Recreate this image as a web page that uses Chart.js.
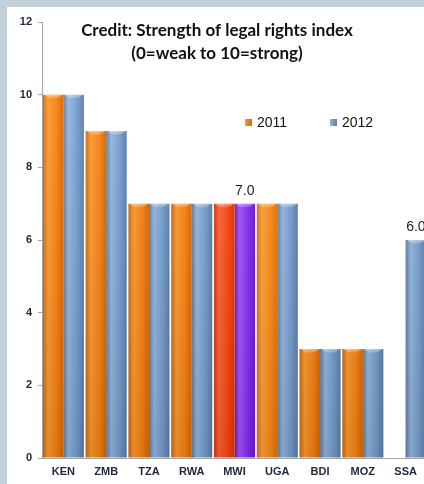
<!DOCTYPE html>
<html>
<head>
<meta charset="utf-8">
<script src="https://cdn.jsdelivr.net/npm/chart.js@4.4.1/dist/chart.umd.min.js"></script>
<style>
  html, body { margin: 0; padding: 0; overflow: hidden; width: 424px; height: 484px; background: #fff; }
  #wrap { position: absolute; left: 0; top: 0; width: 440px; height: 484px; }
</style>
</head>
<body>
<div id="wrap"><canvas id="c" width="440" height="484"></canvas></div>
<script>
const categories = ['KEN', 'ZMB', 'TZA', 'RWA', 'MWI', 'UGA', 'BDI', 'MOZ', 'SSA'];
const values2011 = [10, 9, 7, 7, 7, 7, 3, 3, null];
const values2012 = [10, 9, 7, 7, 7, 7, 3, 3, 6];
const yTicks = [0, 2, 4, 6, 8, 10, 12];
const seriesNames = ['2011', '2012'];
const titleLines = ['Credit: Strength of legal rights index', '(0=weak to 10=strong)'];
const labelledBars = [{ series: 1, category: 'MWI', text: '7.0' }, { series: 1, category: 'SSA', text: '6.0' }];

// palettes: [dark edge, light, base]
const PAL = {
  orange: ['#D26808', '#FF9A30', '#F9800E'],
  orangeB: ['#E07208', '#FFA238', '#FF8A12'],
  blue: ['#5B7DA8', '#93B8E2', '#739BCB'],
  red: ['#E03400', '#FF6634', '#FF420E'],
  purple: ['#6A1CC8', '#A454FF', '#8428F2']
};
const pal2011 = categories.map(c => c === 'MWI' ? PAL.red : (c === 'UGA' ? PAL.orangeB : PAL.orange));
const pal2012 = categories.map(c => c === 'MWI' ? PAL.purple : PAL.blue);
const palettes = [pal2011, pal2012];

const gradientPlugin = {
  id: 'gradients',
  beforeDatasetsDraw(chart) {
    const ctx = chart.ctx;
    chart.data.datasets.forEach((ds, di) => {
      const meta = chart.getDatasetMeta(di);
      meta.data.forEach((bar, i) => {
        const p = palettes[di][i];
        const x0 = bar.x - bar.width / 2, x1 = bar.x + bar.width / 2;
        const g = ctx.createLinearGradient(x0, 0, x1, 0);
        g.addColorStop(0, p[0]);
        g.addColorStop(0.25, p[1]);
        g.addColorStop(0.7, p[2]);
        g.addColorStop(1, p[0]);
        bar.options = Object.assign({}, bar.options, { backgroundColor: g });
      });
    });
  },
  afterDatasetsDraw(chart) {
    const ctx = chart.ctx;
    ctx.save();
    chart.data.datasets.forEach((ds, di) => {
      const meta = chart.getDatasetMeta(di);
      meta.data.forEach((bar, i) => {
        if (ds.data[i] == null) return;
        const x0 = bar.x - bar.width / 2;
        const g = ctx.createLinearGradient(0, chart.chartArea.top, 0, bar.base);
        g.addColorStop(0, 'rgba(255,255,255,0.06)');
        g.addColorStop(1, 'rgba(0,0,0,0.10)');
        ctx.fillStyle = g;
        ctx.fillRect(x0, bar.y, bar.width, bar.base - bar.y);
        // top bevel highlight
        const hg = ctx.createLinearGradient(0, bar.y, 0, bar.y + 5);
        hg.addColorStop(0, 'rgba(255,255,255,0.45)');
        hg.addColorStop(1, 'rgba(255,255,255,0)');
        ctx.fillStyle = hg;
        ctx.beginPath();
        ctx.moveTo(x0 + 1, bar.y);
        ctx.lineTo(x0 + bar.width - 1, bar.y);
        ctx.quadraticCurveTo(x0 + bar.width / 2, bar.y + 8, x0 + 1, bar.y);
        ctx.closePath();
        ctx.fill();
      });
    });
    // value labels
    ctx.fillStyle = '#222';
    ctx.font = '14px "Liberation Sans", Arial, sans-serif';
    ctx.textAlign = 'center';
    ctx.textBaseline = 'bottom';
    labelledBars.forEach(l => {
      const idx = categories.indexOf(l.category);
      const bar = chart.getDatasetMeta(l.series).data[idx];
      ctx.fillText(l.text, bar.x, bar.y - 6);
    });
    ctx.restore();
  }
};

const framePlugin = {
  id: 'frame',
  beforeDraw(chart) {
    const ctx = chart.ctx;
    ctx.save();
    ctx.fillStyle = '#C3CFD9';
    ctx.fillRect(0, 0, chart.width, chart.height);
    ctx.fillStyle = '#FFFFFF';
    ctx.fillRect(7, 7, chart.width - 7, chart.height - 7);
    ctx.restore();
  },
  afterDraw(chart) {
    const ctx = chart.ctx;
    ctx.save();
    ctx.fillStyle = '#111';
    ctx.font = 'bold 17px Lato, "Liberation Sans", sans-serif';
    ctx.textAlign = 'center';
    ctx.textBaseline = 'middle';
    ctx.fillText(titleLines[0], 217, 31);
    ctx.fillText(titleLines[1], 217, 54);
    const legendX = [245, 330];
    const legendCols = [PAL.orange, PAL.blue];
    ctx.font = '14px "Liberation Sans", Arial, sans-serif';
    ctx.textAlign = 'left';
    seriesNames.forEach((n, i) => {
      const g = ctx.createLinearGradient(legendX[i], 0, legendX[i] + 7, 0);
      g.addColorStop(0, legendCols[i][1]);
      g.addColorStop(1, legendCols[i][0]);
      ctx.fillStyle = g;
      ctx.fillRect(legendX[i], 119, 7, 7);
      ctx.fillStyle = '#111';
      ctx.fillText(n, legendX[i] + 12, 123);
    });
    ctx.restore();
  }
};

new Chart(document.getElementById('c'), {
  type: 'bar',
  data: {
    labels: categories,
    datasets: [
      { label: seriesNames[0], data: values2011, borderWidth: 0, backgroundColor: c => palettes[0][c.dataIndex][2] },
      { label: seriesNames[1], data: values2012, borderWidth: 0, backgroundColor: c => palettes[1][c.dataIndex][2] }
    ]
  },
  options: {
    responsive: false,
    animation: false,
    devicePixelRatio: 1,
    layout: { padding: { left: 6, top: 22, right: 13, bottom: 0 } },
    plugins: { legend: { display: false }, title: { display: false }, tooltip: { enabled: false } },
    datasets: { bar: { categoryPercentage: 0.96, barPercentage: 1.0 } },
    scales: {
      x: {
        grid: { display: false, drawTicks: false },
        border: { display: true, color: '#A6A6A6', width: 1 },
        ticks: { color: '#1E2838', font: { size: 11, weight: 'bold', family: '"Liberation Sans", Arial, sans-serif' }, padding: 7, maxRotation: 0, autoSkip: false },
        afterFit(s) { s.height = 26; }
      },
      y: {
        min: 0, max: 12,
        afterBuildTicks(s) { s.ticks = yTicks.map(v => ({ value: v })); },
        grid: { display: true, drawOnChartArea: false, drawTicks: true, tickLength: 4, color: '#A6A6A6' },
        border: { display: true, color: '#A6A6A6', width: 1 },
        ticks: { color: '#1E2838', font: { size: 11, weight: 'bold', family: '"Liberation Sans", Arial, sans-serif' }, padding: 6 },
        afterFit(s) { s.width = 36; }
      }
    }
  },
  plugins: [framePlugin, gradientPlugin]
});
</script>
</body>
</html>
